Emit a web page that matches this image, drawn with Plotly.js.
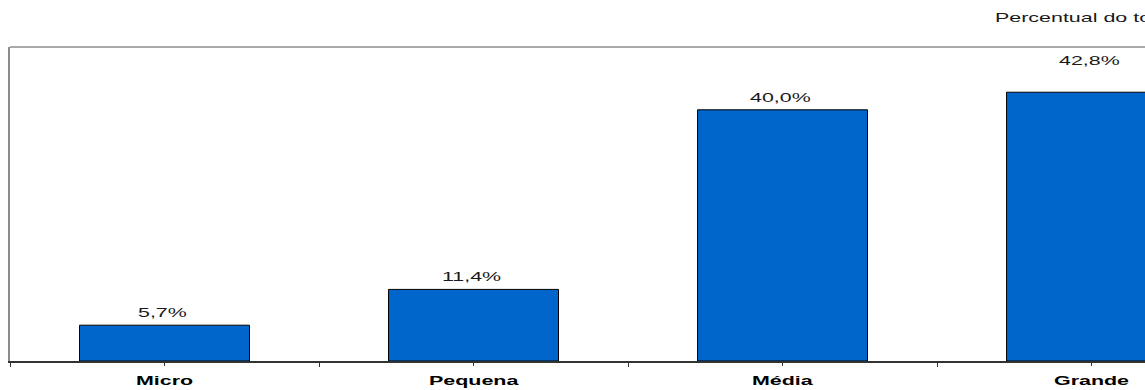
<!DOCTYPE html>
<html>
<head>
<meta charset="utf-8">
<script src="https://cdn.plot.ly/plotly-3.0.1.min.js"></script>
<style>
  html, body { margin: 0; padding: 0; background: #fff; }
  #chart { width: 1145px; height: 390px; }
  /* wide, stretched lettering for all chart texts */
  .annotation-text {
    transform: scaleX(1.65);
    transform-box: fill-box;
    transform-origin: center;
  }
</style>
</head>
<body>
<div id="chart"></div>
<script>
// Share of the total by company size
const categories = ['Micro', 'Pequena', 'Média', 'Grande'];
const shares = [5.7, 11.4, 40.0, 42.8];
const headerText = 'Percentual do total';

const xs = categories.map((_, i) => i);
const fmt = v => v.toFixed(1).replace('.', ',') + '%';

const trace = {
  type: 'bar',
  x: xs,
  y: shares,
  width: 0.55,
  marker: { color: '#0066CC', line: { color: '#000000', width: 1 } },
  hoverinfo: 'skip'
};

// value labels above each bar
const valueLabels = shares.map((v, i) => ({
  x: xs[i], y: v, xref: 'x', yref: 'y',
  text: fmt(v), showarrow: false,
  yanchor: 'bottom', xanchor: 'center',
  xshift: -2,
  yshift: i === shares.length - 1 ? 22 : 3,
  font: { family: 'Liberation Sans, Arial, sans-serif', size: 13, color: '#1a1a1a' }
}));

// category names under the axis
const categoryLabels = categories.map((c, i) => ({
  x: xs[i], y: 0, xref: 'x', yref: 'paper',
  text: '<b>' + c + '</b>', showarrow: false,
  yanchor: 'top', xanchor: 'center', yshift: -10,
  font: { family: 'Liberation Sans, Arial, sans-serif', size: 13, color: '#000000' }
}));

const header = {
  x: 0.947, y: 1, xref: 'paper', yref: 'paper',
  text: headerText, showarrow: false,
  xanchor: 'center', yanchor: 'bottom', yshift: 20,
  font: { family: 'Liberation Sans, Arial, sans-serif', size: 13, color: '#1a1a1a' }
};

const layout = {
  width: 1145, height: 390,
  margin: { l: 10, r: 0, t: 47, b: 29, pad: 0 },
  paper_bgcolor: '#ffffff', plot_bgcolor: '#ffffff',
  showlegend: false,
  xaxis: {
    range: [-0.5, 3.173], fixedrange: true,
    tickvals: xs, showticklabels: false,
    ticks: 'outside', ticklen: 3, tickcolor: '#333333', tickwidth: 1,
    minor: { tickmode: 'linear', tick0: -0.5, dtick: 1, ticks: 'outside', ticklen: 4, tickcolor: '#333333', tickwidth: 1, showgrid: false },
    showline: true, linecolor: '#333333', linewidth: 1.5,
    showgrid: false, zeroline: false
  },
  yaxis: {
    range: [0, 50], fixedrange: true,
    showticklabels: false, ticks: '',
    showline: true, linecolor: '#8c8c8c', linewidth: 2,
    showgrid: false, zeroline: false
  },
  shapes: [{
    type: 'line', xref: 'paper', yref: 'paper',
    x0: 0, x1: 1, y0: 1, y1: 1,
    line: { color: '#8c8c8c', width: 1.5 }
  }],
  annotations: valueLabels.concat(categoryLabels, [header])
};

Plotly.newPlot('chart', [trace], layout, { staticPlot: true, displayModeBar: false });
</script>
</body>
</html>
